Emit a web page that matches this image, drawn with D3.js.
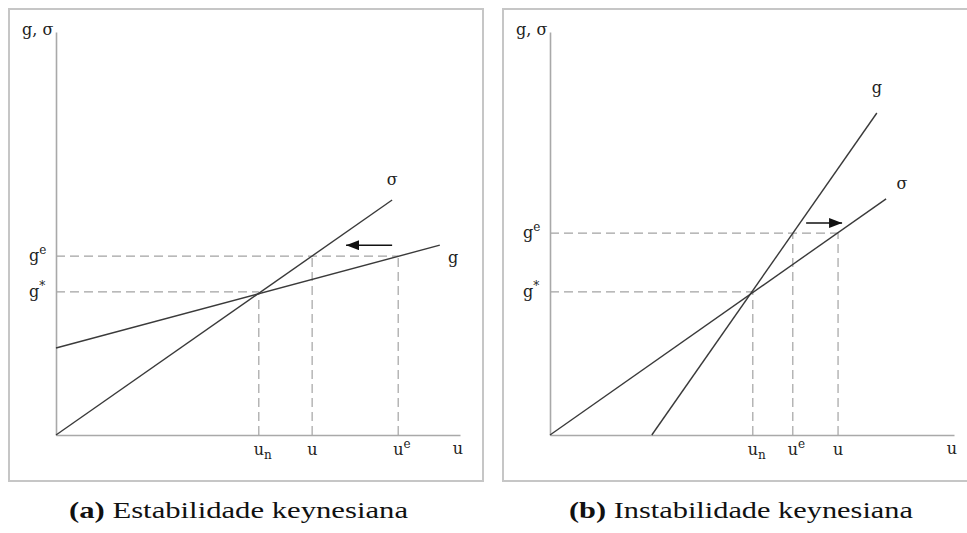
<!DOCTYPE html>
<meta charset="utf-8">
<style>
body { margin: 0; background: #fff; }
.frame { fill: none; stroke: #c6c6c6; stroke-width: 2px; }
.axis path { stroke: #a9a9a9; stroke-width: 1.6px; }
.dash { stroke: #a3a3a3; stroke-width: 1.2px; stroke-dasharray: 9,5; }
.curve { fill: none; stroke: #3a3a3a; stroke-width: 1.4px; }
.lbl { font-family: "DejaVu Serif", serif; font-size: 16px; fill: #222; }
.caption { font-family: "Liberation Serif", "Times New Roman", serif; font-size: 24px; fill: #111; }
</style>
<svg width="967" height="533"></svg>
<script src="https://d3js.org/d3.v7.min.js"></script>
<script>
// panel data (u on x, g / sigma on y, both 0..10)
var panelIds = ["a", "b"];
var captions = ["Estabilidade keynesiana", "Instabilidade keynesiana"];
var sigmaLines = [[[0, 0], [8.32, 5.83]], [[0, 0], [8.32, 5.86]]];
var gLines = [[[0, 2.16], [9.5, 4.71]], [[2.52, 0], [8.09, 7.99]]];
// x ticks: value, name, subscript/superscript, height of dashed drop line
var xTicks = [
  [{v: 5.02, t: "u", sub: "n", top: 3.55}, {v: 6.34, t: "u", top: 4.44}, {v: 8.47, t: "u", sup: "e", top: 4.44}],
  [{v: 5.02, t: "u", sub: "n", top: 3.55}, {v: 6.01, t: "u", sup: "e", top: 5.01}, {v: 7.13, t: "u", top: 5.01}]
];
// y ticks: value, name, superscript, where the dashed line stops
var yTicks = [
  [{v: 3.55, t: "g", sup: "*", end: 5.02}, {v: 4.44, t: "g", sup: "e", end: 8.47}],
  [{v: 3.55, t: "g", sup: "*", end: 5.02}, {v: 5.01, t: "g", sup: "e", end: 7.13}]
];
var arrows = [[[8.32, 4.71], [7.18, 4.71]], [[6.34, 5.26], [7.23, 5.26]]];
var curveLabels = [
  [{t: "σ", at: [8.32, 6.2]}, {t: "g", at: [9.83, 4.27]}],
  [{t: "g", at: [8.09, 8.49]}, {t: "σ", at: [8.71, 6.1]}]
];

var svg = d3.select("svg");
var offsets = [0, 494];

var x = d3.scaleLinear().domain([0, 10]).range([0, 404]),
    y = d3.scaleLinear().domain([0, 10]).range([403, 0]);

var line = d3.line()
    .x(function(d) { return x(d[0]); })
    .y(function(d) { return y(d[1]); });

svg.append("defs").append("marker")
    .attr("id", "head")
    .attr("markerUnits", "userSpaceOnUse")
    .attr("markerWidth", 14)
    .attr("markerHeight", 10)
    .attr("refX", 13)
    .attr("refY", 5)
    .attr("orient", "auto")
  .append("path")
    .attr("d", "M0,0 L13,5 L0,10 Z")
    .attr("fill", "#111");

panelIds.forEach(function(id, i) {
  var ox = offsets[i];

  // frame
  svg.append("rect")
      .attr("class", "frame")
      .attr("x", 9 + ox)
      .attr("y", 9)
      .attr("width", i == 0 ? 474 : 470)
      .attr("height", 472);

  var g = svg.append("g").attr("transform", "translate(" + (56 + ox) + ",32)");

  // dashed guides
  g.selectAll(".hdash").data(yTicks[i]).enter().append("line")
      .attr("class", "dash")
      .attr("x1", x(0)).attr("x2", function(d) { return x(d.end); })
      .attr("y1", function(d) { return y(d.v); }).attr("y2", function(d) { return y(d.v); });

  g.selectAll(".vdash").data(xTicks[i]).enter().append("line")
      .attr("class", "dash")
      .attr("x1", function(d) { return x(d.v); }).attr("x2", function(d) { return x(d.v); })
      .attr("y1", y(0)).attr("y2", function(d) { return y(d.top); });

  // axes
  g.append("g")
      .attr("class", "axis")
      .attr("transform", "translate(0," + y(0) + ")")
      .call(d3.axisBottom(x).tickValues([]).tickSizeOuter(0));
  g.append("g")
      .attr("class", "axis")
      .call(d3.axisLeft(y).tickValues([]).tickSizeOuter(0));

  // curves
  g.append("path").attr("class", "curve").attr("d", line(sigmaLines[i]));
  g.append("path").attr("class", "curve").attr("d", line(gLines[i]));

  // arrow
  g.append("path")
      .attr("d", line(arrows[i]))
      .attr("stroke", "#111")
      .attr("stroke-width", 1.6)
      .attr("fill", "none")
      .attr("marker-end", "url(#head)");

  // x tick labels
  var xl = g.selectAll(".xl").data(xTicks[i]).enter().append("text")
      .attr("class", "lbl")
      .attr("x", function(d) { return x(d.v) - 5; })
      .attr("y", y(0) + 20)
      .text(function(d) { return d.t; });
  xl.filter(function(d) { return d.sub; }).append("tspan")
      .attr("dy", 4).style("font-size", "12px")
      .text(function(d) { return d.sub; });
  xl.filter(function(d) { return d.sup; }).append("tspan")
      .attr("dy", -7).style("font-size", "12px")
      .text(function(d) { return d.sup; });

  // y tick labels
  var yl = g.selectAll(".yl").data(yTicks[i]).enter().append("text")
      .attr("class", "lbl")
      .attr("x", -27)
      .attr("y", function(d) { return y(d.v) + 5; })
      .text(function(d) { return d.t; });
  yl.append("tspan")
      .attr("dy", -7).style("font-size", "12px")
      .text(function(d) { return d.sup; });

  // axis titles
  g.append("text").attr("class", "lbl")
      .attr("x", x(10) - 2).attr("y", y(0) + 19)
      .attr("text-anchor", "middle").text("u");
  g.append("text").attr("class", "lbl")
      .attr("x", -34).attr("y", 3)
      .text("g, σ");

  // curve labels
  g.selectAll(".cl").data(curveLabels[i]).enter().append("text")
      .attr("class", "lbl")
      .attr("text-anchor", "middle")
      .attr("x", function(d) { return x(d.at[0]); })
      .attr("y", function(d) { return y(d.at[1]); })
      .text(function(d) { return d.t; });

  // caption
  var cap = svg.append("text")
      .attr("class", "caption")
      .attr("x", [69, 569][i])
      .attr("y", 518)
      .attr("textLength", [339, 344][i])
      .attr("lengthAdjust", "spacingAndGlyphs");
  cap.append("tspan").style("font-weight", "bold").text("(" + id + ")");
  cap.append("tspan").text(" " + captions[i]);
});
</script>
